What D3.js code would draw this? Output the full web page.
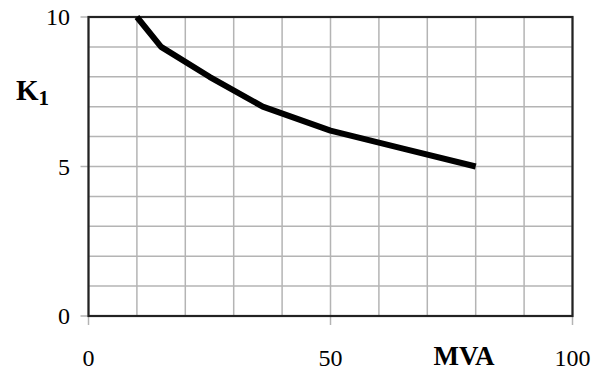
<!DOCTYPE html>
<html><head><meta charset="utf-8">
<script src="https://cdn.jsdelivr.net/npm/d3@7"></script>
<style>body{margin:0;background:#fff}svg{display:block}</style>
</head><body>
<script>
const mva = [10, 15, 25, 36, 50, 65, 80];
const k1 = [10, 9, 8, 7, 6.2, 5.6, 5];
const xTicks = [0, 50, 100];
const yTicks = [0, 5, 10];
const xGrid = d3.range(0, 101, 10);
const yGrid = d3.range(0, 11, 1);

const W = 605, H = 371;
const svg = d3.select("body").append("svg").attr("width", W).attr("height", H);
const x = d3.scaleLinear().domain([0, 100]).range([88.5, 572.5]);
const y = d3.scaleLinear().domain([0, 10]).range([316, 17]);
const font = "'Liberation Serif', 'Times New Roman', serif";

// grid
svg.append("g").selectAll("line").data(xGrid).join("line")
  .attr("x1", d => x(d)).attr("x2", d => x(d)).attr("y1", y(0)).attr("y2", y(10))
  .attr("stroke", "#b4b4b4").attr("stroke-width", 1.5);
svg.append("g").selectAll("line").data(yGrid).join("line")
  .attr("y1", d => y(d)).attr("y2", d => y(d)).attr("x1", x(0)).attr("x2", x(100))
  .attr("stroke", "#b4b4b4").attr("stroke-width", 1.5);

// tick marks
svg.append("g").selectAll("line").data(yTicks).join("line")
  .attr("x1", x(0) - 8).attr("x2", x(0)).attr("y1", d => y(d)).attr("y2", d => y(d))
  .attr("stroke", "#b4b4b4").attr("stroke-width", 1.5);
svg.append("g").selectAll("line").data(xTicks).join("line")
  .attr("x1", d => x(d)).attr("x2", d => x(d)).attr("y1", y(0)).attr("y2", y(0) + 9)
  .attr("stroke", "#b4b4b4").attr("stroke-width", 1.5);

// frame
svg.append("rect").attr("x", x(0)).attr("y", y(10))
  .attr("width", x(100) - x(0)).attr("height", y(0) - y(10))
  .attr("fill", "none").attr("stroke", "#222").attr("stroke-width", 2.2);

// curve
svg.append("path").datum(mva.map((m, i) => [m, k1[i]]))
  .attr("d", d3.line().x(d => x(d[0])).y(d => y(d[1])))
  .attr("fill", "none").attr("stroke", "#000").attr("stroke-width", 6)
  .attr("stroke-linejoin", "round");

// y tick labels
svg.append("g").selectAll("text").data(yTicks).join("text")
  .attr("x", 70).attr("y", d => y(d)).attr("dy", "0.35em")
  .attr("text-anchor", "end").attr("font-family", font).attr("font-size", 24)
  .text(d => d);

// x tick labels
svg.append("g").selectAll("text").data(xTicks).join("text")
  .attr("x", d => x(d)).attr("y", 366)
  .attr("text-anchor", "middle").attr("font-family", font).attr("font-size", 24)
  .text(d => d);

// axis titles
const kt = svg.append("text").attr("x", 16).attr("y", 100)
  .attr("font-family", font).attr("font-weight", "bold").attr("font-size", 29);
kt.append("tspan").text("K");
kt.append("tspan").attr("font-size", 21).attr("dy", 5).text("1");

svg.append("text").attr("x", 464).attr("y", 365).attr("text-anchor", "middle")
  .attr("font-family", font).attr("font-weight", "bold").attr("font-size", 27)
  .text("MVA");
</script>
</body></html>
